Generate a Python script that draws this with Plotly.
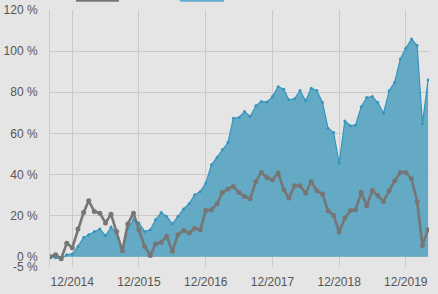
import pandas as pd
import plotly.graph_objects as go

start_month = "2014-08-01"
n_months = 69
dates = pd.date_range(start_month, periods=n_months, freq="MS")

series_gray_name = "Benchmark"
series_blue_name = "Portfolio"

gray_values = [0, 1, -1, 6.6, 4.4, 13.5, 21.5, 27.2, 22, 21.2, 16.4, 20.7, 12.3, 2.9,
               15.9, 21.2, 13.1, 5, 0.6, 6.2, 7, 9.9, 2.6, 10.7, 12.8, 11.5, 13.9, 13.1,
               22.5, 22.8, 25.8, 31.2, 32.9, 34.2, 31.2, 29.3, 28.2, 36.6, 41, 38.5, 37.4,
               40.7, 32.6, 28.5, 34.5, 34.5, 31, 36.6, 32.1, 30.5, 22.4, 20.1, 12, 18.8,
               22.5, 22.8, 31.4, 24.8, 32.2, 29.8, 26.9, 32.1, 36.9, 41, 41, 37.9, 26.9,
               5.5, 13.1]

blue_values = [0, -0.5, -1, 1, 1.3, 5, 9.4, 10.7, 12.3, 13.5, 10.2, 14.4, 11.5, 2.6,
               13.9, 18, 16.4, 12.3, 13.1, 18, 21.5, 19.6, 16, 19.6, 23.2, 25.8, 30.1,
               31.7, 35.8, 44.7, 48.4, 52, 55.5, 67.4, 67.7, 70.6, 68.2, 73.4, 75.5, 75.2,
               77.9, 82.7, 81.5, 76.3, 76.8, 80.8, 75.9, 82, 80.8, 75, 62.5, 60.4, 45.5,
               66, 63.7, 64.1, 73, 77.4, 77.9, 75, 69.8, 80.7, 84.9, 96.2, 101.4, 105.9,
               102.7, 64.6, 86]

x_tick_dates = ["2014-12-01", "2015-12-01", "2016-12-01", "2017-12-01", "2018-12-01", "2019-12-01"]
x_tick_labels = ["12/2014", "12/2015", "12/2016", "12/2017", "12/2018", "12/2019"]
y_tick_values = [-5, 0, 20, 40, 60, 80, 100, 120]
y_tick_labels = ["-5 %", "0 %", "20 %", "40 %", "60 %", "80 %", "100 %", "120 %"]

fig = go.Figure()
fig.add_trace(go.Scatter(
    x=dates, y=blue_values, name=series_blue_name, mode="lines+markers",
    fill="tozeroy", fillcolor="rgba(90,165,194,0.92)",
    line=dict(color="#3596bd", width=1.2),
    marker=dict(size=3, color="#3596bd"),
))
fig.add_trace(go.Scatter(
    x=dates, y=gray_values, name=series_gray_name, mode="lines+markers",
    line=dict(color="#767676", width=2.6),
    marker=dict(size=5, color="#767676"),
))

fig.update_layout(
    width=438, height=294,
    margin=dict(l=50, r=9, t=10, b=27, autoexpand=False),
    paper_bgcolor="#e5e5e5", plot_bgcolor="#e5e5e5",
    showlegend=False,
    font=dict(family="Liberation Sans, Arial, sans-serif", size=12, color="#555555"),
    shapes=[
        dict(type="rect", xref="paper", yref="paper", x0=(77 - 50) / 379, x1=(118 - 50) / 379,
             y0=1.036, y1=1.1, fillcolor="#e5e5e5", line=dict(color="#777777", width=2)),
        dict(type="rect", xref="paper", yref="paper", x0=(181 - 50) / 379, x1=(223 - 50) / 379,
             y0=1.036, y1=1.1, fillcolor="#8ec7dc", line=dict(color="#5fb0d0", width=2)),
    ],
)
fig.update_xaxes(
    range=[pd.Timestamp("2014-08-01"), pd.Timestamp("2020-04-06")],
    tickvals=pd.to_datetime(x_tick_dates), ticktext=x_tick_labels,
    showgrid=True, gridcolor="#cacaca", gridwidth=1, automargin=False,
    zeroline=False, showline=False, ticks="", ticklabelstandoff=6,
)
fig.update_yaxes(
    range=[-5, 120], tickvals=y_tick_values, ticktext=y_tick_labels,
    showgrid=True, gridcolor="#cacaca", gridwidth=1, automargin=False,
    zeroline=False, showline=True, linecolor="#cacaca", ticks="", ticklabelstandoff=9,
)

fig.write_html("out.html")
